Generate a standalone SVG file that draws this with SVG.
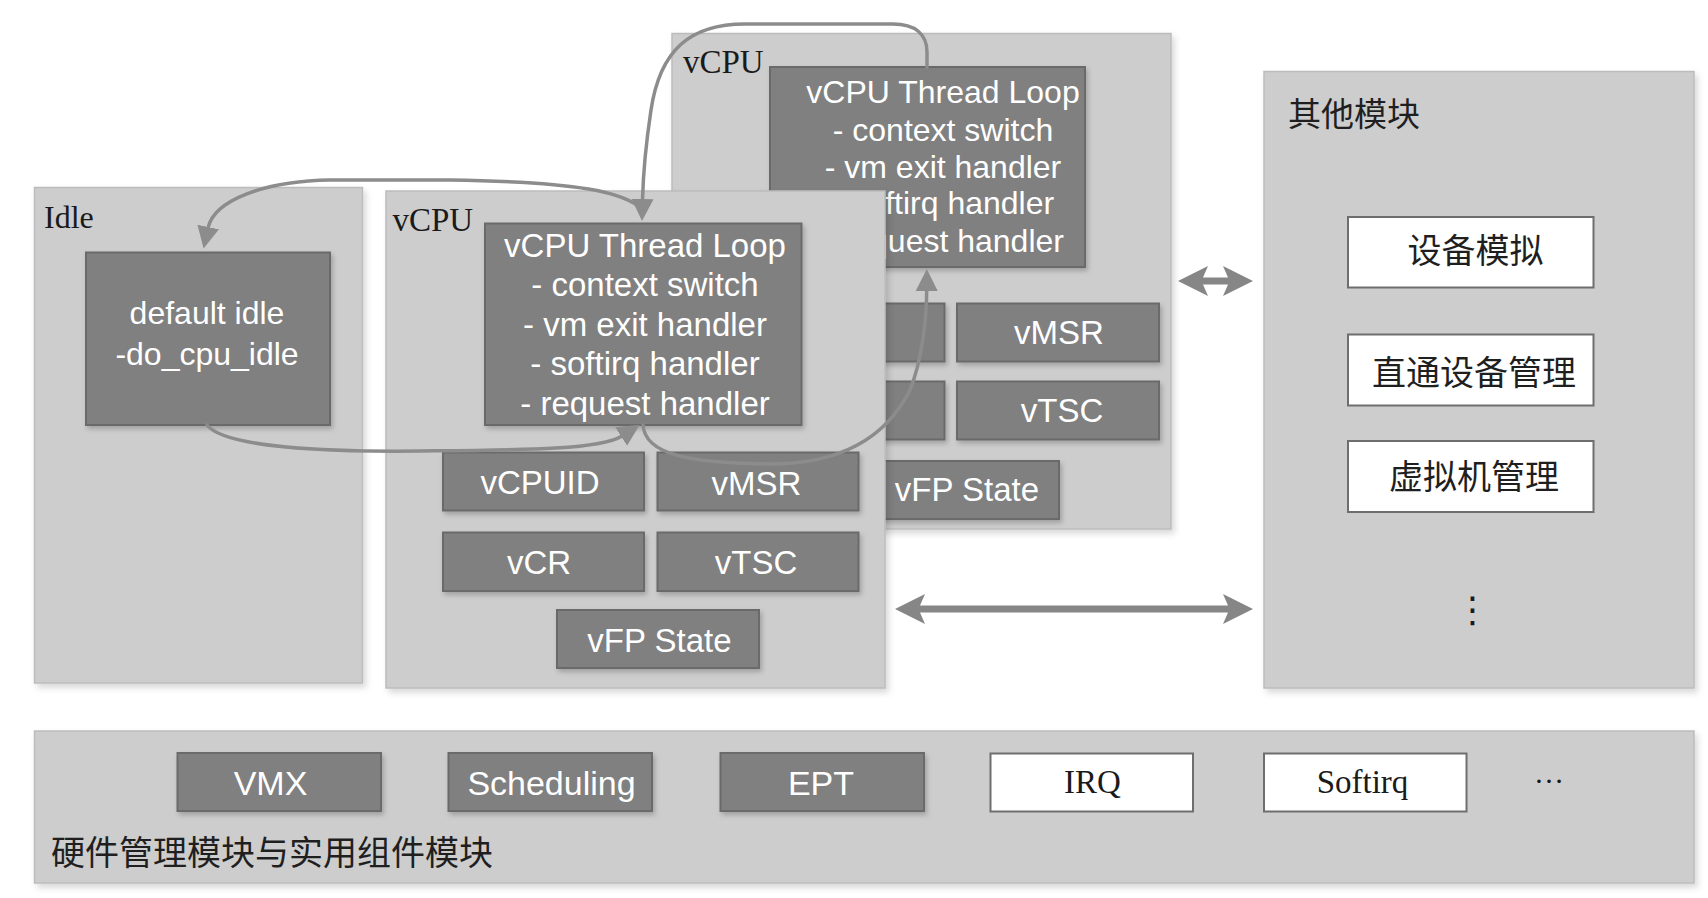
<svg xmlns="http://www.w3.org/2000/svg" width="1708" height="898" viewBox="0 0 1708 898">
<defs>
<style>
.panel{fill:#cdcdcd;stroke:#bcbcbc;stroke-width:1.5}
.dark{fill:#808080;stroke:#6a6a6a;stroke-width:2}
.white{fill:#ffffff;stroke:#6e6e6e;stroke-width:2}
.ts{font-family:"Liberation Sans",Arial,sans-serif;fill:#ffffff;text-anchor:middle}
.tr{font-family:"Liberation Serif","Times New Roman",serif;fill:#1a1a1a}
.tc{font-family:"Noto Sans CJK SC","Noto Sans CJK TC",sans-serif;fill:#1f1f1f}
.conn{fill:none;stroke:#8c8c8c;stroke-width:3.5;stroke-linecap:round}
.dbl{fill:#868686}
</style>
<filter id="sh" x="-10%" y="-10%" width="125%" height="130%">
<feDropShadow dx="2" dy="3" stdDeviation="2.5" flood-color="#000" flood-opacity="0.22"/>
</filter>
<filter id="shp" x="-5%" y="-5%" width="112%" height="112%">
<feDropShadow dx="3" dy="4" stdDeviation="3" flood-color="#000" flood-opacity="0.15"/>
</filter>
<marker id="ah" markerUnits="userSpaceOnUse" markerWidth="24" markerHeight="24" viewBox="0 -12 24 24" refX="1" refY="0" orient="auto">
<path d="M0,-11 L22,0 L0,11 z" fill="#8c8c8c"/>
</marker>
</defs>
<rect x="0" y="0" width="1708" height="898" fill="#ffffff"/>

<!-- back vCPU -->
<g id="vcpu-back">
<rect class="panel" filter="url(#shp)" x="672" y="33.5" width="499" height="495.5"/>
<text class="tr" x="683" y="72.5" font-size="33">vCPU</text>
<g id="loop-back">
<rect class="dark" filter="url(#sh)" x="770" y="67" width="315" height="200"/>
<text class="ts" font-size="32" x="943"><tspan x="943" y="103">vCPU Thread Loop</tspan><tspan x="943" y="140.5">- context switch</tspan><tspan x="943" y="177.5">- vm exit handler</tspan><tspan x="943" y="214">- softirq handler</tspan><tspan x="943" y="251.5">- request handler</tspan></text>
</g>
<g id="vcpuid-back"><rect class="dark" filter="url(#sh)" x="743" y="303.5" width="201.5" height="58"/></g>
<g id="vmsr-back"><rect class="dark" filter="url(#sh)" x="957" y="303.5" width="202" height="58"/><text class="ts" font-size="33" x="1059" y="344">vMSR</text></g>
<g id="vcr-back"><rect class="dark" filter="url(#sh)" x="743" y="381.5" width="201.5" height="58"/></g>
<g id="vtsc-back"><rect class="dark" filter="url(#sh)" x="957" y="381.5" width="202" height="58"/><text class="ts" font-size="33" x="1062" y="421.5">vTSC</text></g>
<g id="vfp-back"><rect class="dark" filter="url(#sh)" x="857" y="461" width="202" height="58"/><text class="ts" font-size="33" x="967" y="501">vFP State</text></g>
</g>

<!-- Idle -->
<g id="idle">
<rect class="panel" filter="url(#shp)" x="34.5" y="187.5" width="328" height="495.5"/>
<text class="tr" x="44" y="228" font-size="32">Idle</text>
<g id="default-idle">
<rect class="dark" filter="url(#sh)" x="86" y="252.5" width="244" height="172.5"/>
<text class="ts" font-size="32" x="207" y="324">default idle</text>
<text class="ts" font-size="32" x="207" y="365">-do_cpu_idle</text>
</g>
</g>

<!-- front vCPU -->
<g id="vcpu-front">
<rect class="panel" filter="url(#shp)" x="386" y="191" width="499" height="497"/>
<text class="tr" x="392.5" y="230.5" font-size="33">vCPU</text>
<g id="loop-front">
<rect class="dark" filter="url(#sh)" x="485" y="223.5" width="316.5" height="201.5"/>
<text class="ts" font-size="33" x="645"><tspan x="645" y="256.7">vCPU Thread Loop</tspan><tspan x="645" y="296.2">- context switch</tspan><tspan x="645" y="335.7">- vm exit handler</tspan><tspan x="645" y="375.2">- softirq handler</tspan><tspan x="645" y="414.7">- request handler</tspan></text>
</g>
<g id="vcpuid-front"><rect class="dark" filter="url(#sh)" x="443" y="452.5" width="201" height="58"/><text class="ts" font-size="33" x="540" y="494">vCPUID</text></g>
<g id="vmsr-front"><rect class="dark" filter="url(#sh)" x="657.5" y="452.5" width="201" height="58"/><text class="ts" font-size="33" x="756.5" y="495">vMSR</text></g>
<g id="vcr-front"><rect class="dark" filter="url(#sh)" x="443" y="532.5" width="201" height="58.5"/><text class="ts" font-size="33" x="539" y="574">vCR</text></g>
<g id="vtsc-front"><rect class="dark" filter="url(#sh)" x="657.5" y="532.5" width="201" height="58.5"/><text class="ts" font-size="33" x="756" y="574">vTSC</text></g>
<g id="vfp-front"><rect class="dark" filter="url(#sh)" x="557" y="610" width="202" height="58"/><text class="ts" font-size="33" x="659.5" y="651.5">vFP State</text></g>
</g>

<!-- other modules -->
<g id="other">
<rect class="panel" filter="url(#shp)" x="1264" y="71.5" width="430" height="616.5"/>
<text class="tc" x="1288" y="126" font-size="33">其他模块</text>
<g id="dev-emu"><rect class="white" x="1348" y="217" width="245.5" height="70.5"/><text class="tc" x="1475.5" y="262.5" font-size="34" text-anchor="middle">设备模拟</text></g>
<g id="passthru"><rect class="white" x="1348" y="334.5" width="245.5" height="71"/><text class="tc" x="1474" y="385" font-size="34" text-anchor="middle">直通设备管理</text></g>
<g id="vm-mgmt"><rect class="white" x="1348" y="441" width="245.5" height="71"/><text class="tc" x="1474" y="489" font-size="34" text-anchor="middle">虚拟机管理</text></g>
<text x="1472.5" y="622" font-size="36" font-family="DejaVu Sans,sans-serif" fill="#1a1a1a" text-anchor="middle">⋮</text>
</g>

<!-- bottom -->
<g id="hw">
<rect class="panel" filter="url(#shp)" x="34.5" y="731" width="1659.5" height="152"/>
<text class="tc" x="51" y="865" font-size="34">硬件管理模块与实用组件模块</text>
<g id="vmx"><rect class="dark" filter="url(#sh)" x="177.5" y="753" width="203.5" height="58"/><text class="ts" font-size="34" x="270.5" y="795">VMX</text></g>
<g id="sched"><rect class="dark" filter="url(#sh)" x="448.5" y="753" width="203.5" height="58"/><text class="ts" font-size="34" x="551.5" y="795">Scheduling</text></g>
<g id="ept"><rect class="dark" filter="url(#sh)" x="720.5" y="753" width="203.5" height="58"/><text class="ts" font-size="34" x="821" y="795">EPT</text></g>
<g id="irq"><rect class="white" x="990.5" y="753.5" width="202.5" height="58"/><text class="tr" font-size="33" x="1092.5" y="793" text-anchor="middle">IRQ</text></g>
<g id="softirq"><rect class="white" x="1264" y="753.5" width="202.5" height="58"/><text class="tr" font-size="33" x="1362.5" y="793" text-anchor="middle">Softirq</text></g>
<text class="tr" font-size="30" x="1549" y="783" text-anchor="middle">…</text>
</g>

<!-- connectors -->
<g id="connectors">
<path class="conn" marker-end="url(#ah)" d="M927 67 L927 52 C927 34 915 24 893 24 L745 24 C690 24 660 50 651 110 C645 150 643 180 642.5 200"/>
<path class="conn" marker-end="url(#ah)" d="M643 210 C625 192 580 182 450 180 L330 180 C265 181 214 200 208 228"/>
<path class="conn" marker-end="url(#ah)" d="M207 425 C225 448 330 452 420 451 C520 450 600 450 622 436"/>
<path class="conn" marker-end="url(#ah)" d="M643 425 C645 455 690 463 770 464 C850 464 890 430 910 390 C922 360 926.5 320 926.7 290"/>
<polygon class="dbl" points="1178,281 1208,266 1203,277.5 1228,277.5 1223,266 1253,281 1223,296 1228,284.5 1203,284.5 1208,296"/>
<polygon class="dbl" points="895,609 925,594 920,605.5 1228,605.5 1223,594 1253,609 1223,624 1228,612.5 920,612.5 925,624"/>
</g>
</svg>
